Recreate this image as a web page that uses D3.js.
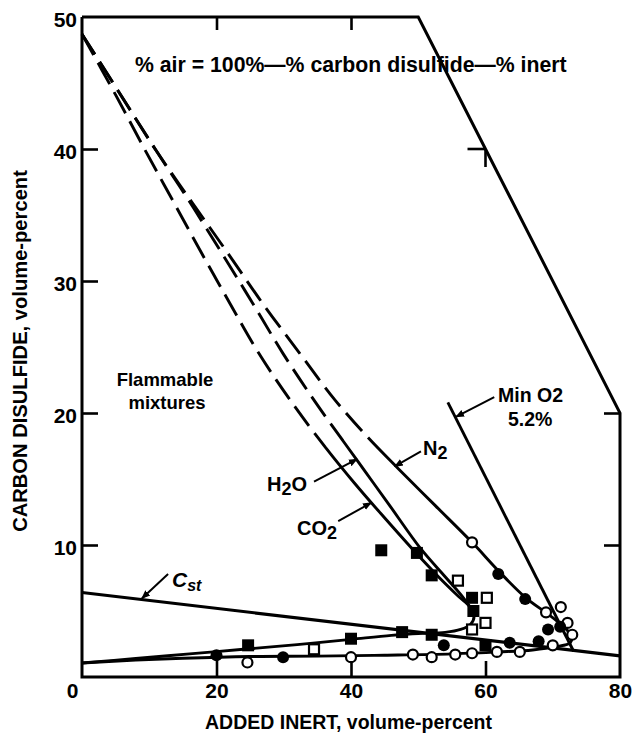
<!DOCTYPE html>
<html><head><meta charset="utf-8">
<script src="https://cdn.jsdelivr.net/npm/d3@7"></script>
<style>
body{margin:0;background:#fff}
svg{display:block}
text{font-family:"Liberation Sans",Arial,Helvetica,sans-serif;fill:#000}
</style>
</head><body><svg id="c" width="636" height="733"></svg>
<script>
// ---------- data ----------
const xTickVals = [0,20,40,60,80];
const yTickVals = [10,20,30,40,50];
const frameBoundary = [[0,50],[50,50],[80,20],[80,0],[0,0],[0,50]]; // % air = 0 along diagonal
const diagTicks = [[60,40]];

// curves (added inert %, CS2 %): dashed (extrapolated) part, then solid part
const co2Dashed = [[0,48.7],[5,44.1],[9.4,39.9],[13.6,36],[17.8,32.1],[22,28.3],[26.2,24.6],[31.2,20.8],[36.2,17.4]];
const co2Solid  = [[40.5,14.7],[44.4,12.4],[49.3,9.6],[53,7.6],[56,6.1],[57.7,5.3],[58.3,4.6],[57.8,4.0],[56.3,3.6],[54,3.38],[50,3.3],[46,3.15],[40,2.85],[32,2.45],[24,2.1],[16,1.75],[8,1.4],[0,1.06]];
const h2oDashed = [[0,48.7],[5.5,44.3],[11,39.9],[16,36],[20.8,32.1],[25.4,28.3],[29.9,24.5],[34.6,20.9],[38.8,17.9]];
const h2oSolid  = [[42.2,15.5],[45.6,13.1],[50.4,9.7],[54,7.6],[56.4,6.2],[57.7,5.3]];
const n2Dashed  = [[0,48.7],[5.5,44.3],[11,39.9],[16.3,36],[21.7,32.1],[27,28.2],[32.4,24.5],[37.6,21],[42.6,18.1]];
const n2Solid   = [[47,15.8],[52.5,13.0],[58,10.2],[62,8.0],[66,6.0],[69.2,4.8],[71.4,3.9],[72.8,3.1],[72.6,2.6],[70.5,2.3],[67,2.05],[62,1.9],[55,1.75],[45,1.65],[35,1.58],[25,1.55],[15,1.42],[8,1.28],[0,1.06]];
const cstLine   = [[0,6.4],[80,1.6]];
const minO2Line = [[54.4,20.8],[73.1,1.95]];

// data points
const filledSquares = [[44.5,9.6],[49.8,9.4],[52,7.7],[58,6.0],[58.2,5.0],[47.6,3.4],[52,3.2],[40,2.9],[24.7,2.4],[60,2.4]];
const openSquares   = [[55.9,7.3],[60.2,6.0],[60,4.1],[58,3.6],[34.5,2.1]];
const openCircles   = [[58,10.2],[69,4.9],[71.2,5.3],[72.2,4.1],[72.9,3.2],[70,2.4],[24.6,1.1],[40,1.5],[49.2,1.7],[52,1.5],[55.5,1.7],[58,1.8],[61.7,1.9],[65.1,1.9]];
const filledCircles = [[61.9,7.8],[65.9,5.9],[69.3,3.6],[71.1,3.8],[20,1.65],[29.9,1.5],[53.8,2.4],[63.6,2.6],[67.9,2.7]];

// annotation arrows (from label to curve)
const arrows = [
  {from:[34.5,14.8], to:[40.9,16.5]},   // H2O
  {from:[38.1,11.8], to:[43.0,13.2]},   // CO2
  {from:[50.4,17.1], to:[46.5,15.95]},  // N2
  {from:[61.3,21.2], to:[55.6,19.7]},   // Min O2
  {from:[12.8,7.8],  to:[8.9,5.95]}     // Cst
];

// ---------- drawing ----------
const svg = d3.select('#c');
const x = d3.scaleLinear().domain([0,80]).range([82,620]);
const y = d3.scaleLinear().domain([0,50]).range([677,17]);
const smooth = d3.line().x(d=>x(d[0])).y(d=>y(d[1])).curve(d3.curveCatmullRom.alpha(0.5));
const straight = d3.line().x(d=>x(d[0])).y(d=>y(d[1]));

const SW = 2.9;
svg.append('path').attr('d', straight(frameBoundary)).attr('fill','none').attr('stroke','#000').attr('stroke-width',3).attr('stroke-linejoin','miter');

function styleAxis(g){ g.select('.domain').remove(); g.selectAll('line').attr('stroke','#000').attr('stroke-width',2.6);
  g.attr('font-family',null).attr('font-size',null);
  g.selectAll('text').attr('fill','#000').style('font-size','21px').style('font-weight','bold'); }

const gb = svg.append('g').attr('transform',`translate(0,${y(0)})`)
  .call(d3.axisBottom(x).tickValues(xTickVals).tickSize(-16).tickPadding(6).tickFormat(d3.format('d')));
styleAxis(gb);
gb.selectAll('.tick').filter(d=>d===0||d===80).select('line').remove();
gb.selectAll('.tick').filter(d=>d===0).select('text').attr('dx',-10);
const gl = svg.append('g').attr('transform',`translate(${x(0)},0)`)
  .call(d3.axisLeft(y).tickValues(yTickVals).tickSize(-16).tickPadding(5).tickFormat(d3.format('d')));
styleAxis(gl);
gl.selectAll('.tick').filter(d=>d===50).select('line').remove();
gl.selectAll('.tick text').attr('dy','0.45em');
const gt = svg.append('g').attr('transform',`translate(0,${y(50)})`)
  .call(d3.axisTop(x).tickValues([20,40]).tickSize(-13).tickFormat(''));
styleAxis(gt);
const gr = svg.append('g').attr('transform',`translate(${x(80)},0)`)
  .call(d3.axisRight(y).tickValues([10,20]).tickSize(-16).tickFormat(''));
styleAxis(gr);
diagTicks.forEach(d=>{
  svg.append('line').attr('x1',x(d[0])).attr('y1',y(d[1])).attr('x2',x(d[0])-18).attr('y2',y(d[1])).attr('stroke','#000').attr('stroke-width',2.6);
  svg.append('line').attr('x1',x(d[0])).attr('y1',y(d[1])).attr('x2',x(d[0])).attr('y2',y(d[1])+18).attr('stroke','#000').attr('stroke-width',2.6);
});

function curve(dashedPts, solidPts){
  const tmp = svg.append('path').attr('d', smooth(dashedPts)).attr('fill','none');
  const Ld = tmp.node().getTotalLength(); tmp.remove();
  const p = svg.append('path').attr('d', smooth(dashedPts.concat(solidPts))).attr('fill','none')
    .attr('stroke','#000').attr('stroke-width',SW);
  const total = p.node().getTotalLength();
  const arr = []; let s = 0;
  while (s + 33 <= Ld) { arr.push(24, 9); s += 33; }
  arr.push(Ld - s + 0.01, 0, total);
  p.attr('stroke-dasharray', arr.join(','));
}
curve(co2Dashed, co2Solid);
curve(h2oDashed, h2oSolid);
curve(n2Dashed, n2Solid);
svg.append('path').attr('d',straight(cstLine)).attr('fill','none').attr('stroke','#000').attr('stroke-width',3.2);
svg.append('path').attr('d',straight(minO2Line)).attr('fill','none').attr('stroke','#000').attr('stroke-width',SW);

const sq = 12;
svg.selectAll('.fsq').data(filledSquares).enter().append('rect')
  .attr('x',d=>x(d[0])-sq/2).attr('y',d=>y(d[1])-sq/2).attr('width',sq).attr('height',sq).attr('fill','#000');
svg.selectAll('.osq').data(openSquares).enter().append('rect')
  .attr('x',d=>x(d[0])-5).attr('y',d=>y(d[1])-5).attr('width',10).attr('height',10).attr('fill','#fff').attr('stroke','#000').attr('stroke-width',2.2);
svg.selectAll('.oc').data(openCircles).enter().append('circle')
  .attr('cx',d=>x(d[0])).attr('cy',d=>y(d[1])).attr('r',5).attr('fill','#fff').attr('stroke','#000').attr('stroke-width',2.2);
svg.selectAll('.fc').data(filledCircles).enter().append('circle')
  .attr('cx',d=>x(d[0])).attr('cy',d=>y(d[1])).attr('r',6).attr('fill','#000');

svg.append('defs').append('marker').attr('id','ah').attr('viewBox','0 0 10 10').attr('refX',9).attr('refY',5)
  .attr('markerWidth',9).attr('markerHeight',9).attr('markerUnits','userSpaceOnUse').attr('orient','auto')
  .append('path').attr('d','M0,1 L10,5 L0,9 Z').attr('fill','#000');
arrows.forEach(a=>svg.append('line').attr('x1',x(a.from[0])).attr('y1',y(a.from[1])).attr('x2',x(a.to[0])).attr('y2',y(a.to[1]))
  .attr('stroke','#000').attr('stroke-width',2).attr('marker-end','url(#ah)'));

function fit(t, w){ const n=t.node(); const L=n.getComputedTextLength(); const fs=parseFloat(t.style('font-size')); t.style('font-size',(fs*w/L)+'px'); return t; }

const note = svg.append('text').attr('x',135).attr('y',72).style('font-size','19px').style('font-weight','bold')
  .text('% air = 100%—% carbon disulfide—% inert');
fit(note,432);

const xl = svg.append('text').attr('x',348.5).attr('y',729).attr('text-anchor','middle').style('font-size','18px').style('font-weight','bold').text('ADDED INERT, volume-percent');
fit(xl,287);
const yl = svg.append('text').attr('transform','translate(27,351) rotate(-90)').attr('text-anchor','middle').style('font-size','18px').style('font-weight','bold').text('CARBON DISULFIDE, volume-percent');
fit(yl,362);

svg.append('text').attr('x',165).attr('y',386).attr('text-anchor','middle').style('font-size','18.5px').style('font-weight','bold').text('Flammable');
svg.append('text').attr('x',167).attr('y',409).attr('text-anchor','middle').style('font-size','18.5px').style('font-weight','bold').text('mixtures');

function chem(xp, yp, parts, fs){
  const t = svg.append('text').attr('x',xp).attr('y',yp).style('font-size',fs+'px').style('font-weight','bold');
  parts.forEach(p=>{ const s=t.append('tspan').text(p.t);
    if(p.sub){ s.attr('dy',p.sub).style('font-size',(p.fs||fs)+'px'); } });
  return t;
}
chem(267,491,[{t:'H'},{t:'2',sub:4,fs:18},{t:'O',sub:-4}],20);
chem(297,535,[{t:'CO'},{t:'2',sub:4,fs:18}],20);
chem(423,455,[{t:'N'},{t:'2',sub:4,fs:18}],20);
svg.append('text').attr('x',498).attr('y',402).style('font-size','19.5px').style('font-weight','bold').text('Min O2');
svg.append('text').attr('x',508).attr('y',426).style('font-size','19.5px').style('font-weight','bold').text('5.2%');
const cst = svg.append('text').attr('x',172).attr('y',587).style('font-size','21px').style('font-weight','bold').style('font-style','italic');
cst.append('tspan').text('C');
cst.append('tspan').attr('dy',4).style('font-size','16px').text('st');
</script>
</body></html>
